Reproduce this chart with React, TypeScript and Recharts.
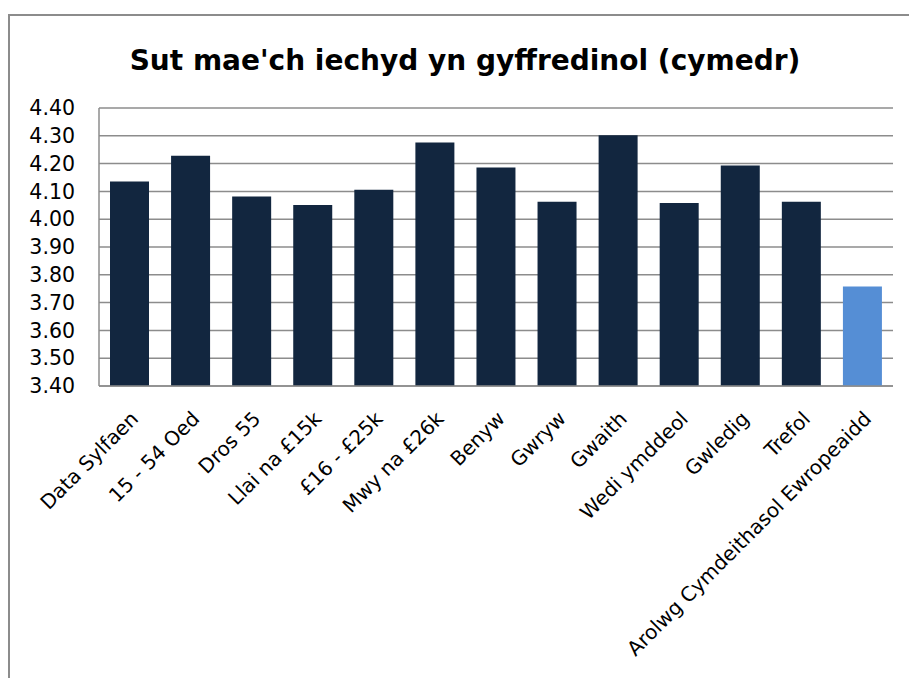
import React from 'react';
import { BarChart, Bar, XAxis, YAxis, CartesianGrid, Cell } from 'recharts';

const categories = [
  'Data Sylfaen',
  '15 - 54 Oed',
  'Dros 55',
  'Llai na £15k',
  '£16 - £25k',
  'Mwy na £26k',
  'Benyw',
  'Gwryw',
  'Gwaith',
  'Wedi ymddeol',
  'Gwledig',
  'Trefol',
  'Arolwg Cymdeithasol Ewropeaidd',
];
const values = [4.136, 4.228, 4.082, 4.051, 4.106, 4.276, 4.186, 4.063, 4.302, 4.058, 4.193, 4.063, 3.758];
const yTicks = [3.4, 3.5, 3.6, 3.7, 3.8, 3.9, 4.0, 4.1, 4.2, 4.3, 4.4];
const title = "Sut mae'ch iechyd yn gyffredinol (cymedr)";

const data = categories.map((name, i) => ({ name, value: values[i] }));

const FONT = "'DejaVu Sans', sans-serif";
const DARK = '#12263f';
const LIGHT = '#558ed5';
const GRID = '#8c8c8c';

const XTick = (props: any) => {
  const { x, y, payload } = props;
  const ax = x + 10;
  const ay = y + 34;
  return (
    <text
      x={ax}
      y={ay}
      textAnchor="end"
      transform={`rotate(-45, ${ax}, ${ay})`}
      fontFamily={FONT}
      fontSize={20}
      fill="#000"
    >
      {payload.value}
    </text>
  );
};

export default function App() {
  return (
    <div style={{ position: 'absolute', left: 0, top: 0, width: 909, height: 678, background: '#fff', overflow: 'hidden' }}>
      <div
        style={{
          position: 'absolute',
          left: 8,
          top: 14,
          width: 920,
          height: 700,
          borderLeft: '2px solid #8c8c8c',
          borderTop: '2px solid #8c8c8c',
        }}
      />
      <div
        style={{
          position: 'absolute',
          left: 0,
          top: 44,
          width: 930,
          textAlign: 'center',
          fontFamily: FONT,
          fontWeight: 'bold',
          fontSize: 28,
          lineHeight: '34px',
          color: '#000',
        }}
      >
        {title}
      </div>
      <div style={{ position: 'absolute', left: 0, top: 0 }}>
        <BarChart
          width={909}
          height={678}
          data={data}
          margin={{ top: 108, right: 16, left: 0, bottom: 0 }}
        >
          <CartesianGrid horizontal vertical={false} stroke={GRID} strokeWidth={1.5} />
          <XAxis
            dataKey="name"
            interval={0}
            height={292}
            tickLine={false}
            tickSize={0}
            tickMargin={0}
            axisLine={{ stroke: GRID, strokeWidth: 1.5 }}
            tick={<XTick />}
          />
          <YAxis
            domain={[3.4, 4.4]}
            ticks={yTicks}
            width={99}
            interval={0}
            tickLine={false}
            tickSize={0}
            tickMargin={24}
            allowDataOverflow
            axisLine={{ stroke: GRID, strokeWidth: 1.5 }}
            tickFormatter={(v: number) => v.toFixed(2)}
            tick={{ fontFamily: FONT, fontSize: 20.5, fill: '#000' }}
          />
          <Bar dataKey="value" barSize={39} isAnimationActive={false}>
            {data.map((d, i) => (
              <Cell key={d.name} fill={i === data.length - 1 ? LIGHT : DARK} />
            ))}
          </Bar>
        </BarChart>
      </div>
    </div>
  );
}
